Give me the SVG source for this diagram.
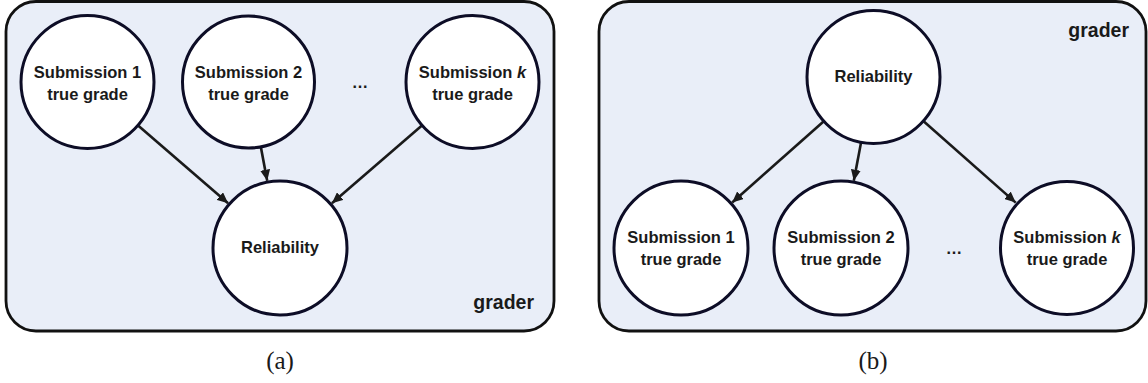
<svg xmlns="http://www.w3.org/2000/svg" width="1148" height="383" viewBox="0 0 1148 383">
<style>
.panel{fill:#e9eef8;stroke:#111;stroke-width:2.8}
.node{fill:#fff;stroke:#0d0d26;stroke-width:3}
.t{font-family:"Liberation Sans",Arial,sans-serif;font-weight:bold;font-size:16.5px;fill:#1a1a1a;text-anchor:middle}
.g{font-family:"Liberation Sans",Arial,sans-serif;font-weight:bold;font-size:19.5px;fill:#1a1a1a;text-anchor:end}
.cap{font-family:"Liberation Serif","Times New Roman",serif;font-size:25px;fill:#1a1a1a;text-anchor:middle}
.edge{stroke:#1a1a1a;stroke-width:2.6;fill:none;marker-end:url(#ah)}
</style>
<defs>
<marker id="ah" markerUnits="userSpaceOnUse" markerWidth="12" markerHeight="10" refX="11" refY="5" orient="auto">
<path d="M0,0 L11,5 L0,10 Z" fill="#1a1a1a"/>
</marker>
</defs>
<g id="panel-a">
<rect class="panel" x="6" y="1.5" width="548" height="329.5" rx="30"/>
<text class="g" x="534" y="309">grader</text>
</g>
<g id="panel-b">
<rect class="panel" x="599" y="1.5" width="547" height="329.5" rx="30"/>
<text class="g" x="1129" y="36.5">grader</text>
</g>
<g id="connectors">
<line class="edge" x1="137.5" y1="125.1" x2="228.1" y2="203.3"/>
<line class="edge" x1="260.8" y1="146.8" x2="267.2" y2="180.7"/>
<line class="edge" x1="422.5" y1="125.1" x2="331.9" y2="203.3"/>
<line class="edge" x1="823.8" y1="121.2" x2="732.2" y2="202.5"/>
<line class="edge" x1="861.1" y1="142.3" x2="853.8" y2="180.7"/>
<line class="edge" x1="923.3" y1="121.0" x2="1015.7" y2="202.6"/>
</g>
<g id="a-sub1">
<circle class="node" cx="87.5" cy="82" r="66.5"/>
<text class="t" x="87.5" y="77.5">Submission 1</text>
<text class="t" x="87.5" y="99.5">true grade</text>
</g>
<g id="a-sub2">
<circle class="node" cx="248.5" cy="82" r="66"/>
<text class="t" x="248.5" y="77.5">Submission 2</text>
<text class="t" x="248.5" y="99.5">true grade</text>
</g>
<g id="a-dots">
<text class="t" x="360" y="88">…</text>
</g>
<g id="a-subk">
<circle class="node" cx="472.5" cy="82" r="66.5"/>
<text class="t" x="472.5" y="77.5">Submission <tspan font-style="italic">k</tspan></text>
<text class="t" x="472.5" y="99.5">true grade</text>
</g>
<g id="a-rel">
<circle class="node" cx="280" cy="248" r="67"/>
<text class="t" x="280" y="253">Reliability</text>
</g>
<g id="b-rel">
<circle class="node" cx="873.5" cy="77" r="66.5"/>
<text class="t" x="873.5" y="81.5">Reliability</text>
</g>
<g id="b-sub1">
<circle class="node" cx="681" cy="248" r="67"/>
<text class="t" x="681" y="242.5">Submission 1</text>
<text class="t" x="681" y="264.5">true grade</text>
</g>
<g id="b-sub2">
<circle class="node" cx="841" cy="248" r="67"/>
<text class="t" x="841" y="242.5">Submission 2</text>
<text class="t" x="841" y="264.5">true grade</text>
</g>
<g id="b-dots">
<text class="t" x="954" y="254">…</text>
</g>
<g id="b-subk">
<circle class="node" cx="1067" cy="248" r="66.5"/>
<text class="t" x="1067" y="242.5">Submission <tspan font-style="italic">k</tspan></text>
<text class="t" x="1067" y="264.5">true grade</text>
</g>
<text class="cap" x="280" y="369">(a)</text>
<text class="cap" x="873" y="369">(b)</text>
</svg>
